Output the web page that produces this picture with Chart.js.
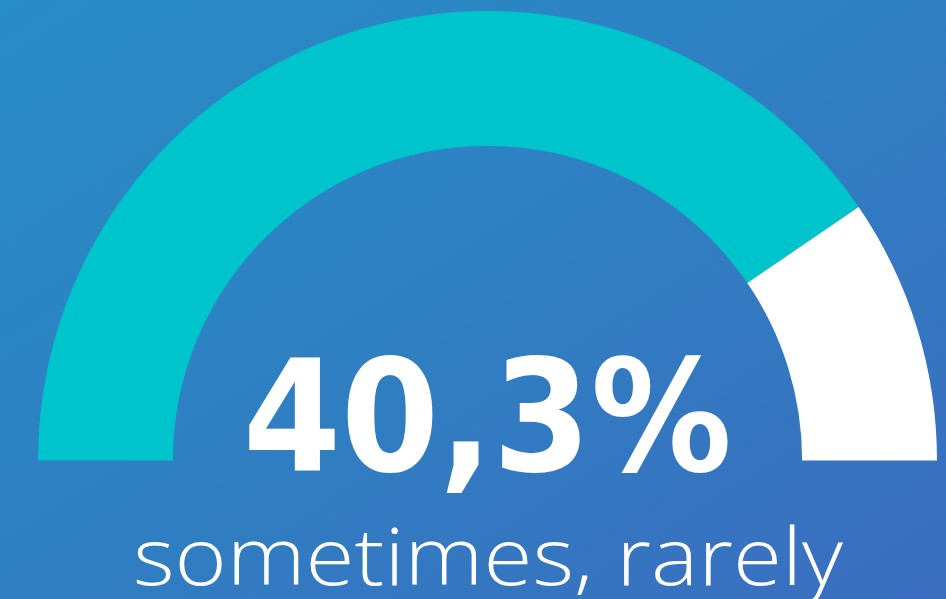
<!DOCTYPE html>
<html>
<head>
<meta charset="utf-8">
<script src="https://cdn.jsdelivr.net/npm/chart.js@4"></script>
<style>
  html, body { margin: 0; padding: 0; }
  body {
    width: 946px; height: 599px; overflow: hidden;
    background: linear-gradient(to bottom right, #278dc6 0%, #2f7fc2 50%, #3b6dbf 100%);
  }
  #wrap { position: relative; width: 946px; height: 599px; }
</style>
</head>
<body>
<div id="wrap"><canvas id="gauge" width="946" height="599"></canvas></div>
<script>
// Gauge: share answering "sometimes, rarely" plus the remainder of the scale
const gaugeLabels = ['sometimes, rarely', 'rest of scale'];
const gaugeValues = [40.3, 9.5];
const gaugeColors = ['#00c4cc', '#ffffff'];
const valueText = '40,3%';
const captionText = 'sometimes, rarely';

// Texto central desenhado no canvas, ajustado à largura desejada
const centerText = {
  id: 'centerText',
  afterDraw(chart) {
    const ctx = chart.ctx;
    const drawFit = (text, font, x, y, width) => {
      ctx.save();
      ctx.font = font;
      ctx.fillStyle = '#ffffff';
      ctx.textAlign = 'center';
      ctx.textBaseline = 'alphabetic';
      const w = ctx.measureText(text).width;
      ctx.translate(x, y);
      ctx.scale(width / w, 1);
      ctx.fillText(text, 0, 0);
      ctx.restore();
    };
    drawFit(valueText, 'bold 155px "DejaVu Sans", sans-serif', 487.5, 471, 489);
    drawFit(captionText, '300 79px "Open Sans", sans-serif', 488, 585, 710);
  }
};

new Chart(document.getElementById('gauge'), {
  type: 'doughnut',
  data: {
    labels: gaugeLabels,
    datasets: [{
      data: gaugeValues,
      backgroundColor: gaugeColors,
      borderWidth: 0,
      hoverOffset: 0
    }]
  },
  options: {
    responsive: false,
    animation: false,
    rotation: -90,
    circumference: 180,
    cutout: '70%',
    layout: { padding: { left: 38, right: 9, top: 11, bottom: 138.5 } },
    plugins: {
      legend: { display: false },
      tooltip: { enabled: false }
    }
  },
  plugins: [centerText]
});
</script>
</body>
</html>
